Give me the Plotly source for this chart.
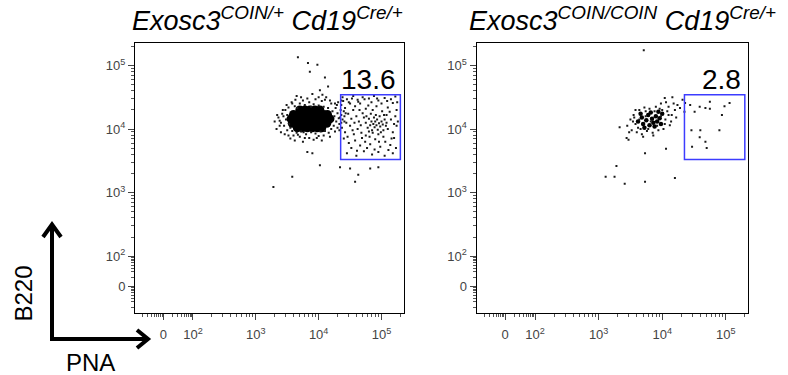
import math
import plotly.graph_objects as go

# ---------------- data (log10 fluorescence intensity) ----------------
# Exosc3 COIN/+ Cd19 Cre/+ : dense core of the B220+ population
CTRL_CORE_PNA = [3.70, 3.78, 3.86, 3.94, 4.02,
                 3.60, 3.68, 3.76, 3.84, 3.92, 4.00, 4.08, 4.14,
                 3.56, 3.64, 3.72, 3.80, 3.88, 3.96, 4.04, 4.12, 4.18,
                 3.58, 3.66, 3.74, 3.82, 3.90, 3.98, 4.06, 4.13,
                 3.66, 3.74, 3.82, 3.90, 3.98, 4.05]
CTRL_CORE_B220 = [4.30, 4.30, 4.30, 4.30, 4.30,
                  4.23, 4.23, 4.23, 4.23, 4.23, 4.23, 4.23, 4.23,
                  4.16, 4.16, 4.16, 4.16, 4.16, 4.16, 4.16, 4.16, 4.16,
                  4.09, 4.09, 4.09, 4.09, 4.09, 4.09, 4.09, 4.09,
                  4.02, 4.02, 4.02, 4.02, 4.02, 4.02]

# Exosc3 COIN/+ Cd19 Cre/+ : individual events
CTRL_EVENTS = [
    # halo around the core
    (3.36, 4.18), (3.40, 4.10), (3.42, 4.24), (3.45, 4.05), (3.47, 4.30), (3.48, 4.15),
    (3.50, 3.98), (3.52, 4.34), (3.44, 4.20), (3.38, 4.13), (3.53, 4.08), (3.50, 4.22),
    (3.62, 4.36), (3.70, 4.40), (3.78, 4.38), (3.85, 4.42), (3.92, 4.39), (4.00, 4.37),
    (4.08, 4.35), (4.15, 4.33), (3.75, 4.45), (3.95, 4.47), (4.05, 4.44), (4.20, 4.40),
    (3.66, 4.33), (3.88, 4.35), (4.22, 4.28), (4.25, 4.20), (4.28, 4.12), (4.24, 4.05),
    (4.30, 4.25), (4.32, 4.17), (4.27, 4.33), (4.20, 4.00), (4.33, 4.08), (4.29, 4.38),
    (3.58, 3.97), (3.65, 3.94), (3.72, 3.96), (3.80, 3.92), (3.88, 3.95), (3.95, 3.93),
    (4.03, 3.96), (4.10, 3.97), (4.16, 3.94), (3.70, 3.88), (3.85, 3.86), (4.00, 3.89),
    (3.60, 3.90), (3.92, 3.83), (3.30, 4.12), (3.40, 3.95), (3.55, 3.85), (3.75, 3.80),
    (4.05, 3.82), (3.65, 4.52), (3.90, 4.55), (4.12, 4.50), (3.67, 3.91), (3.76, 3.95),
    (3.55, 4.02), (3.34, 4.22), (3.38, 4.05), (3.43, 4.30), (3.46, 3.92), (3.49, 4.38),
    (3.57, 4.42), (3.63, 4.46), (3.72, 4.50), (3.82, 4.48), (4.00, 4.50), (4.10, 4.46),
    (4.18, 4.45), (4.26, 4.40), (4.30, 4.02), (4.26, 3.96), (4.18, 3.88), (4.08, 3.90),
    (3.97, 3.86), (3.78, 3.86), (3.62, 3.82), (3.52, 3.90), (3.33, 4.00), (4.36, 4.10),
    (3.58, 4.40),
    # sparse events above the core
    (3.67, 5.13), (3.83, 5.04), (3.98, 5.01), (3.86, 4.90), (4.10, 4.81), (4.15, 4.67),
    (4.02, 4.61), (4.06, 4.54),
    # sparse events below
    (3.82, 3.64), (3.90, 3.62), (4.02, 3.43), (4.34, 3.40), (4.50, 3.38), (4.82, 3.38),
    (4.95, 3.40), (4.63, 3.28), (4.58, 3.17), (3.58, 3.25), (3.28, 3.09),
    # between core and gate
    (4.35, 4.30), (4.34, 4.18), (4.33, 3.98), (4.36, 4.45), (4.31, 4.42),
    # inside the PNA-high gate
    (4.38, 4.50), (4.45, 4.47), (4.55, 4.52), (4.62, 4.46), (4.70, 4.50), (4.80, 4.48),
    (4.88, 4.52), (4.95, 4.45), (5.05, 4.49), (5.15, 4.47), (5.22, 4.51), (4.50, 4.40),
    (4.36, 4.38), (4.42, 4.33), (4.48, 4.42), (4.58, 4.36), (4.66, 4.40), (4.75, 4.32),
    (4.84, 4.42), (4.92, 4.36), (5.00, 4.40), (5.10, 4.34), (5.18, 4.41), (5.24, 4.30),
    (4.40, 4.28), (4.55, 4.30), (4.70, 4.25), (4.36, 4.22), (4.38, 4.15), (4.41, 4.20),
    (4.44, 4.10), (4.47, 4.24), (4.52, 4.16), (4.60, 4.20), (4.64, 4.12), (4.72, 4.18),
    (5.08, 4.22), (5.15, 4.15), (5.22, 4.20), (5.26, 4.12), (4.37, 4.02), (4.42, 3.95),
    (4.50, 4.05), (4.56, 3.92), (4.62, 4.00), (4.68, 3.94), (5.10, 4.00), (5.18, 3.95),
    (5.24, 4.05), (4.75, 3.90), (4.40, 3.85), (4.48, 3.78), (4.58, 3.82), (4.66, 3.74),
    (4.74, 3.80), (4.82, 3.76), (4.90, 3.84), (4.98, 3.72), (5.06, 3.80), (5.14, 3.75),
    (5.20, 3.86), (4.45, 3.62), (4.60, 3.58), (4.72, 3.65), (4.85, 3.60), (4.95, 3.64),
    (5.05, 3.58), (5.18, 3.62), (4.39, 4.44), (4.43, 4.25), (4.46, 3.88), (4.52, 3.70),
    (4.53, 4.48), (4.57, 4.10), (4.61, 3.66), (4.63, 4.43), (4.67, 4.06), (4.69, 3.86),
    (4.73, 4.47), (4.77, 3.70), (4.79, 4.37), (4.81, 3.88), (4.86, 4.30), (4.89, 3.68),
    (4.93, 4.48), (4.96, 3.80), (5.01, 4.28), (5.03, 3.88), (5.09, 4.44), (5.11, 3.67),
    (5.13, 4.27), (5.16, 3.85), (5.20, 4.08), (5.23, 3.70), (5.25, 4.42), (4.41, 4.12),
    (4.54, 3.98), (4.65, 4.30),
    # germinal-centre sub-cluster inside the gate
    (4.75, 4.10), (4.78, 4.02), (4.80, 4.16), (4.82, 4.06), (4.84, 4.12), (4.85, 3.98),
    (4.87, 4.08), (4.88, 4.18), (4.89, 4.03), (4.90, 4.12), (4.92, 4.06), (4.93, 4.15),
    (4.94, 3.99), (4.96, 4.09), (4.97, 4.20), (4.98, 4.04), (5.00, 4.12), (5.02, 4.07),
    (5.03, 3.98), (5.05, 4.15), (5.07, 4.05), (4.86, 3.94), (4.95, 3.92), (4.80, 3.96),
    (4.76, 4.20), (4.91, 4.22), (5.04, 4.22), (4.83, 4.24), (4.99, 3.95), (5.08, 4.10),
]

# Exosc3 COIN/COIN Cd19 Cre/+ : core of the population
KO_CORE_PNA = [3.62, 3.68, 3.70, 3.75, 3.78, 3.80, 3.84, 3.86, 3.90, 3.92, 3.96, 3.98,
               3.72, 3.88, 4.00, 3.66, 3.82, 3.94]
KO_CORE_B220 = [4.12, 4.18, 4.08, 4.14, 4.22, 4.06, 4.16, 4.10, 4.20, 4.12, 4.17, 4.08,
                4.02, 4.04, 4.24, 4.24, 4.26, 4.27]

KO_EVENTS = [
    (3.45, 4.05), (3.50, 4.15), (3.52, 3.98), (3.55, 4.22), (3.58, 4.08), (3.60, 3.95),
    (3.64, 4.30), (3.68, 3.92), (3.72, 4.34), (3.76, 3.97), (3.80, 4.32), (3.85, 3.94),
    (3.90, 4.35), (3.94, 3.98), (4.02, 4.00), (4.05, 4.15), (4.08, 4.28), (4.10, 4.35),
    (4.12, 4.06), (4.15, 4.22), (4.18, 4.40), (4.20, 4.30), (4.06, 4.42), (3.98, 4.40),
    (3.48, 3.95), (3.58, 4.30), (3.70, 3.88), (3.86, 3.90), (4.14, 4.12), (4.22, 4.18),
    (3.62, 4.02), (3.74, 4.28), (3.96, 4.32), (4.04, 4.08), (3.54, 4.12), (3.66, 4.00),
    (3.78, 4.00), (3.92, 4.05), (4.00, 4.30), (3.88, 4.28), (3.64, 4.15), (3.82, 4.12),
    (3.98, 4.20), (4.10, 4.22), (3.56, 4.18), (3.74, 4.20),
    (4.04, 4.49), (4.16, 4.50), (4.24, 4.38), (4.32, 4.46), (4.36, 4.41),
    (3.33, 4.03), (3.44, 3.86), (3.47, 3.83), (4.28, 4.33), (4.35, 4.27),
    # inside the gate
    (4.44, 4.38), (4.51, 4.27), (4.59, 4.35), (4.68, 4.33), (4.75, 4.43), (4.75, 4.32),
    (4.98, 4.36), (5.06, 4.41), (4.94, 4.22), (4.46, 3.98), (4.60, 3.98), (4.90, 3.98),
    (4.59, 3.87), (4.68, 3.80), (4.47, 3.72), (4.70, 3.70),
    # sparse
    (3.73, 3.62), (4.06, 3.69), (3.28, 3.42), (3.11, 3.25), (3.25, 3.25), (3.41, 3.14),
    (3.73, 3.17), (4.20, 3.23), (3.71, 5.24),
]

GATE_PNA = [4.35, 5.30]      # log10 gate limits (PNA)
GATE_B220 = [3.52, 4.54]     # log10 gate limits (B220)
GATE_PCT = ["13.6", "2.8"]

TITLES = ["<i>Exosc3<sup>COIN/+</sup> Cd19<sup>Cre/+</sup></i>",
          "<i>Exosc3<sup>COIN/COIN</sup> Cd19<sup>Cre/+</sup></i>"]
TICK_TEXT = ["0", "10<sup>2</sup>", "10<sup>3</sup>", "10<sup>4</sup>", "10<sup>5</sup>"]
DECADES = [2, 3, 4, 5]

# ---------------- biexponential-like display scale ----------------
ZERO_POS = 1.53                     # display position of 0
TICK_VALS = [ZERO_POS] + DECADES
minor = []
for n in (2, 3, 4):
    minor += [n + math.log10(k) for k in range(2, 10)]
minor += [5 + math.log10(2)]
minor += [2 - (2 - ZERO_POS) * (1 - math.log10(k)) for k in range(2, 10)]
minor += [ZERO_POS - (2 - ZERO_POS) * (1 - math.log10(k)) for k in range(2, 10)]

fig = go.Figure()


def add_panel(col, core_x, core_y, events, core_size):
    xa = "x" if col == 1 else "x2"
    ya = "y" if col == 1 else "y2"
    ex = [p[0] for p in events]
    ey = [p[1] for p in events]
    fig.add_trace(go.Scatter(x=core_x, y=core_y, mode="markers", xaxis=xa, yaxis=ya,
                             marker=dict(size=core_size, color="black"),
                             hoverinfo="skip", showlegend=False))
    fig.add_trace(go.Scatter(x=ex, y=ey, mode="markers", xaxis=xa, yaxis=ya,
                             marker=dict(size=2.0, color="#1a1a1a", symbol="square"),
                             hoverinfo="skip", showlegend=False))
    fig.add_shape(type="rect", xref=xa, yref=ya,
                  x0=GATE_PNA[0], x1=GATE_PNA[1], y0=GATE_B220[0], y1=GATE_B220[1],
                  line=dict(color="#3c3cff", width=1.5))
    fig.add_annotation(xref=xa, yref=ya, x=GATE_PNA[1], y=GATE_B220[1],
                       xanchor="right", yanchor="bottom", showarrow=False,
                       text=GATE_PCT[col - 1], xshift=-2, yshift=-2,
                       font=dict(size=28, color="black", family="Liberation Sans"))


add_panel(1, CTRL_CORE_PNA, CTRL_CORE_B220, CTRL_EVENTS, 9)
add_panel(2, KO_CORE_PNA, KO_CORE_B220, KO_EVENTS, 4.5)

W, H = 788, 375
ydom = [1 - 312.7 / H, 1 - 43 / H]
axis_common = dict(
    tickmode="array", tickvals=TICK_VALS, ticktext=TICK_TEXT,
    ticks="outside", ticklen=6, tickwidth=1, tickcolor="#444",
    minor=dict(tickvals=minor, ticks="outside", ticklen=3, tickwidth=1, tickcolor="#555"),
    showline=True, linecolor="black", linewidth=1, mirror=True,
    showgrid=False, zeroline=False,
    tickfont=dict(size=13, color="#444", family="Liberation Sans"),
)
fig.update_layout(
    width=W, height=H, autosize=False,
    margin=dict(l=0, r=0, t=0, b=0),
    paper_bgcolor="white", plot_bgcolor="white",
    xaxis=dict(domain=[135 / W, 403.5 / W], range=[1.078, 5.35], anchor="y",
               ticklabelstandoff=4, **axis_common),
    yaxis=dict(domain=ydom, range=[1.112, 5.353], anchor="x", **axis_common),
    xaxis2=dict(domain=[476.5 / W, 748 / W], range=[1.078, 5.35], anchor="y2",
                ticklabelstandoff=4, **axis_common),
    yaxis2=dict(domain=ydom, range=[1.112, 5.353], anchor="x2", **axis_common),
)

# panel titles
for x0, t in zip([130 / W, 467 / W], TITLES):
    fig.add_annotation(xref="paper", yref="paper", x=x0, y=1.0,
                       xanchor="left", yanchor="top", showarrow=False, text=t,
                       font=dict(size=27, color="black", family="Liberation Sans"))


# axis key arrows
def px(x, y):
    return x / W, 1 - y / H


arrow_line = dict(color="black", width=4)
for (xa0, ya0, xa1, ya1) in [(52, 341, 52, 225), (50, 339, 147, 339)]:
    a, b = px(xa0, ya0)
    c, d = px(xa1, ya1)
    fig.add_shape(type="line", xref="paper", yref="paper", x0=a, y0=b, x1=c, y1=d, line=arrow_line)
fig.add_shape(type="path", xref="paper", yref="paper",
              path="M {} {} L {} {} L {} {}".format(*px(43, 237), *px(52, 224.5), *px(61, 237)),
              line=arrow_line)
fig.add_shape(type="path", xref="paper", yref="paper",
              path="M {} {} L {} {} L {} {}".format(*px(137, 330), *px(148, 339), *px(137, 348)),
              line=arrow_line)
fig.add_annotation(xref="paper", yref="paper", x=22.5 / W, y=1 - 294 / H, text="B220",
                   textangle=-90, showarrow=False, xanchor="center", yanchor="middle",
                   font=dict(size=24, color="black", family="Liberation Sans"))
fig.add_annotation(xref="paper", yref="paper", x=90 / W, y=1 - 362 / H, text="PNA",
                   showarrow=False, xanchor="center", yanchor="middle",
                   font=dict(size=24, color="black", family="Liberation Sans"))

fig.write_html("out.html")
